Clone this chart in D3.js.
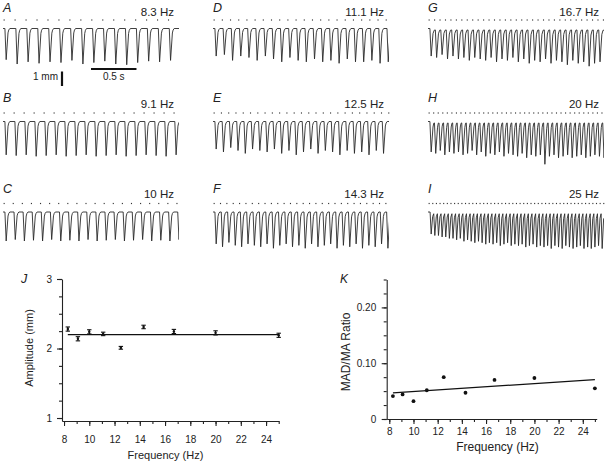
<!DOCTYPE html>
<html><head><meta charset="utf-8">
<script src="https://cdn.jsdelivr.net/npm/d3@7"></script>
<style>
body{margin:0;background:#fff}
svg{display:block;font-family:"Liberation Sans",Arial,Helvetica,sans-serif}
</style>
</head><body>
<svg id="c" width="605" height="463"></svg>
<script>
// ---------- data ----------
const panelLabels = ["A","B","C","D","E","F","G","H","I"];
const panelFreqs  = [8.3, 9.1, 10, 11.1, 12.5, 14.3, 16.7, 20, 25];
const panelFreqText = ["8.3 Hz","9.1 Hz","10 Hz","11.1 Hz","12.5 Hz","14.3 Hz","16.7 Hz","20 Hz","25 Hz"];
// trough depth of each contraction (mm below relaxed level)
const depthsA = [2.15,2.45,2.3,2.4,2.3,2.35,2.2,2.45,2.35,2.25,2.45,2.5,2.35,2.25,2.3,2.2];
const depthsB = [2.3,2.35,2.3,2.4,2.35,2.3,2.4,2.35,2.3,2.4,2.35,2.3,2.4,2.35,2.3,2.35,2.4,2.3];
const depthsC = [2.0,1.9,2.0,1.95,2.0,1.9,2.0,1.95,2.0,1.9,2.0,1.95,1.9,2.0,1.95,1.9,2.0,1.95,2.0,1.9];
const depthsD = [1.9,1.8,2.2,1.9,2.0,2.2,1.9,2.1,2.3,2.0,2.2,2.3,2.1,2.3,2.2,2.4,2.1,2.3,2.3,2.2,2.4,2.3];
const depthsE = [1.9,2.1,1.8,2.0,2.2,1.9,2.0,2.1,1.9,2.2,2.0,2.3,2.1,1.9,2.2,2.0,2.1,2.3,2.0,2.2,2.1,2.3,2.0,2.2];
const depthsF = [2.2,2.4,2.1,2.3,2.4,2.2,2.3,2.4,2.2,2.5,2.3,2.2,2.4,2.3,2.5,2.2,2.4,2.3,2.2,2.5,2.3,2.4,2.2,2.5,2.3,2.4,2.2,2.5];
const depthsG = [1.8,1.9,1.7,2.0,1.8,2.0,1.9,2.1,1.9,2.0,2.1,1.9,2.2,2.0,2.1,1.9,2.2,2.0,2.3,2.1,2.2,2.0,2.3,2.1,2.2,2.4,2.1,2.3,2.2,2.5,2.3,2.2];
const depthsH = [2.0,2.1,1.9,2.2,2.0,2.1,2.0,2.2,2.1,1.9,2.2,2.0,2.3,2.1,2.2,2.0,2.3,2.1,2.2,2.3,2.1,2.4,2.2,2.3,2.2,2.85,2.3,2.2,2.4,2.3,2.2,2.4,2.3,2.2,2.4,2.3,2.2,2.3,2.4];
const depthsI = [1.4,1.5,1.5,1.6,1.6,1.7,1.7,1.8,1.7,1.9,1.8,1.9,2.0,1.9,2.0,2.1,2.0,2.1,2.0,2.2,2.1,2.0,2.2,2.1,2.2,2.1,2.3,2.2,2.1,2.3,2.2,2.3,2.2,2.4,2.2,2.3,2.4,2.2,2.3,2.4,2.3,2.2,2.4,2.3,2.4,2.3,2.2,2.4];
// incomplete relaxation (mm) at high rates
const panelSag = [0, 0, 0, 0, 0, 0, 0.1, 0.1, 0.12];

const summaryFreq  = [8.3, 9.1, 10, 11.1, 12.5, 14.3, 16.7, 20, 25];
const amplitudeMM  = [2.28, 2.14, 2.24, 2.21, 2.01, 2.31, 2.245, 2.225, 2.19];
const amplitudeSEM = [0.03, 0.03, 0.03, 0.025, 0.02, 0.025, 0.03, 0.03, 0.03];
const amplitudeFit = [2.2, 2.2];
const madRatio     = [0.041, 0.044, 0.032, 0.0515, 0.075, 0.047, 0.070, 0.0735, 0.055];
const ratioFit     = [0.0467, 0.0707];
const fitFreqRange = [8.3, 25];
const freqTickValues = [8,10,12,14,16,18,20,22,24];
const ampTickValues = [1,2,3];
const ratioTickValues = [0, 0.10, 0.20];

// ---------- layout ----------
const svg = d3.select("#c");
const ink = "#222";
const colX = [3, 213, 428];
const dotsY = [20, 113, 203.5];
const letterY = [12, 102, 193];
const hzY = [15.5, 108, 197.5];
const traceW = 176, duration = 1.935, mmPx = 14.5;
const depthSets = [depthsA,depthsB,depthsC,depthsD,depthsE,depthsF,depthsG,depthsH,depthsI];

panelLabels.forEach((lab, k) => {
  const col = Math.floor(k / 3), row = k % 3;
  const x0 = colX[col], dy = dotsY[row];
  const f = panelFreqs[k], T = 1 / f, sag = panelSag[k], depths = depthSets[k];
  const x = d3.scaleLinear().domain([0, duration]).range([x0, x0 + traceW]);
  const y = d3.scaleLinear().domain([0, 1]).range([dy + 8.5, dy + 8.5 + mmPx]);
  const g = svg.append("g");
  g.append("text").attr("x", x0).attr("y", letterY[row]).attr("font-size", 12.5)
    .attr("font-style", "italic").attr("fill", ink).text(lab);
  g.append("text").attr("x", x0 + 171).attr("y", hzY[row]).attr("font-size", 11.5)
    .attr("text-anchor", "end").attr("fill", ink).text(panelFreqText[k]);
  // stimulus markers
  const stim = d3.range(0, Math.floor((duration - 0.012) * f) + 1).map(i => 0.012 + i * T);
  g.selectAll("rect.st").data(stim).join("rect").attr("class", "st")
    .attr("x", t => x(t) - 0.5).attr("y", dy - 0.6).attr("width", 1.1).attr("height", 1.2)
    .attr("fill", "#333");
  // trace
  const f1 = Math.min(0.014, 0.3 * T), r1 = Math.min(0.02, 0.4 * T);
  const pts = [[0, 0]];
  depths.forEach((d, i) => {
    const tc = 0.035 + i * T;
    const rest = T - f1 - r1;
    pts.push([tc - f1, i === 0 ? 0 : sag]);
    pts.push([tc, sag + d]);
    pts.push([tc + r1, sag + 0.14 * d]);
    if (rest > 0.03) {
      pts.push([tc + r1 + 0.008, sag + 0.05 * d]);
      pts.push([tc + r1 + 0.02, sag]);
    } else if (rest > 0.012) {
      pts.push([tc + r1 + 0.5 * rest, sag + 0.02]);
    }
  });
  pts.push([duration + 0.1, sag]);
  const clipId = "clip" + lab;
  svg.append("clipPath").attr("id", clipId).append("rect")
    .attr("x", x0 - 1).attr("y", dy).attr("width", traceW + 1).attr("height", 60);
  g.append("path").attr("clip-path", `url(#${clipId})`)
    .attr("d", d3.line().x(p => x(p[0])).y(p => y(p[1])).curve(d3.curveLinear)(pts))
    .attr("fill", "none").attr("stroke", "#2a2a2a").attr("stroke-width", 0.9)
    .attr("stroke-linejoin", "round");
});

// scale bars (use panel A scales)
{
  const xs = d3.scaleLinear().domain([0, duration]).range([colX[0], colX[0] + traceW]);
  const bx = 91;
  svg.append("line").attr("x1", bx).attr("x2", bx + (xs(0.5) - xs(0)))
    .attr("y1", 69).attr("y2", 69).attr("stroke", "#111").attr("stroke-width", 2);
  svg.append("text").attr("x", bx + (xs(0.5) - xs(0)) / 2).attr("y", 80).attr("font-size", 10)
    .attr("text-anchor", "middle").attr("fill", ink).text("0.5 s");
  svg.append("line").attr("x1", 62).attr("x2", 62).attr("y1", 71.5).attr("y2", 71.5 + mmPx)
    .attr("stroke", "#111").attr("stroke-width", 2.2);
  svg.append("text").attr("x", 58).attr("y", 80).attr("font-size", 10)
    .attr("text-anchor", "end").attr("fill", ink).text("1 mm");
}

// ---------- summary plots ----------
function styleAxis(sel) {
  sel.selectAll("path,line").attr("stroke", ink).attr("stroke-width", 1.1);
  sel.selectAll("text").attr("fill", ink).attr("font-size", 10)
    .attr("font-family", '"Liberation Sans",Arial,sans-serif');
}
function drawAxes(x, y, xAxisY, yAxisX, yMinor, yMajor, yFmt, xPad, yPad) {
  const xMinor = d3.range(8, 26, 1);
  const gx1 = svg.append("g").attr("transform", `translate(0,${xAxisY})`)
    .call(d3.axisBottom(x).tickValues(xMinor).tickSize(3).tickFormat(""));
  gx1.select(".domain").remove(); styleAxis(gx1);
  const gx = svg.append("g").attr("transform", `translate(0,${xAxisY})`)
    .call(d3.axisBottom(x).tickValues(freqTickValues).tickSize(5).tickSizeOuter(0).tickPadding(xPad).tickFormat(d3.format("d")));
  styleAxis(gx);
  const gy1 = svg.append("g").attr("transform", `translate(${yAxisX},0)`)
    .call(d3.axisLeft(y).tickValues(yMinor).tickSize(3).tickFormat(""));
  gy1.select(".domain").remove(); styleAxis(gy1);
  const gy = svg.append("g").attr("transform", `translate(${yAxisX},0)`)
    .call(d3.axisLeft(y).tickValues(yMajor).tickSize(5).tickSizeOuter(0).tickPadding(yPad).tickFormat(yFmt));
  styleAxis(gy);
}

// J
{
  const x = d3.scaleLinear().domain([7.84, 25]).range([62, 278.7]);
  const y = d3.scaleLinear().domain([0.957, 3]).range([421, 279]);
  drawAxes(x, y, 421, 62, d3.range(1, 3.01, 0.25), ampTickValues, d3.format("d"), 10, 5);
  svg.append("line").attr("x1", x(fitFreqRange[0])).attr("x2", x(fitFreqRange[1]))
    .attr("y1", y(amplitudeFit[0])).attr("y2", y(amplitudeFit[1]))
    .attr("stroke", "#111").attr("stroke-width", 1.2);
  const eb = svg.append("g").selectAll("g").data(summaryFreq).join("g");
  eb.append("line").attr("x1", (d) => x(d)).attr("x2", (d) => x(d))
    .attr("y1", (d, i) => y(amplitudeMM[i] - amplitudeSEM[i])).attr("y2", (d, i) => y(amplitudeMM[i] + amplitudeSEM[i]))
    .attr("stroke", "#111").attr("stroke-width", 1.3);
  [-1, 1].forEach(s => {
    eb.append("line").attr("x1", d => x(d) - 2.2).attr("x2", d => x(d) + 2.2)
      .attr("y1", (d, i) => y(amplitudeMM[i] + s * amplitudeSEM[i])).attr("y2", (d, i) => y(amplitudeMM[i] + s * amplitudeSEM[i]))
      .attr("stroke", "#111").attr("stroke-width", 1.1);
  });
  eb.append("circle").attr("cx", d => x(d)).attr("cy", (d, i) => y(amplitudeMM[i])).attr("r", 1.2).attr("fill", "#111");
  svg.append("text").attr("x", 165.5).attr("y", 459).attr("text-anchor", "middle")
    .attr("font-size", 11).attr("fill", ink).text("Frequency (Hz)");
  svg.append("text").attr("transform", "translate(33,348) rotate(-90)").attr("text-anchor", "middle")
    .attr("font-size", 11).attr("fill", ink).text("Amplitude (mm)");
  svg.append("text").attr("x", 21).attr("y", 283).attr("font-size", 12.5)
    .attr("font-style", "italic").attr("fill", ink).text("J");
}

// K
{
  const x = d3.scaleLinear().domain([7.785, 25.15]).range([386.7, 596.7]);
  const y = d3.scaleLinear().domain([0, 0.25]).range([419, 279.5]);
  drawAxes(x, y, 419, 386.7, d3.range(0, 0.2501, 0.025), ratioTickValues,
    d => d === 0 ? "0" : d3.format(".2f")(d), 4, 5.5);
  svg.append("line").attr("x1", x(fitFreqRange[0])).attr("x2", x(fitFreqRange[1]))
    .attr("y1", y(ratioFit[0])).attr("y2", y(ratioFit[1]))
    .attr("stroke", "#111").attr("stroke-width", 1.2);
  svg.append("g").selectAll("circle").data(summaryFreq).join("circle")
    .attr("cx", d => x(d)).attr("cy", (d, i) => y(madRatio[i])).attr("r", 1.9).attr("fill", "#111");
  svg.append("text").attr("x", 497.5).attr("y", 451).attr("text-anchor", "middle")
    .attr("font-size", 12).attr("fill", ink).text("Frequency (Hz)");
  svg.append("text").attr("transform", "translate(350,352) rotate(-90)").attr("text-anchor", "middle")
    .attr("font-size", 12).attr("fill", ink).text("MAD/MA Ratio");
  svg.append("text").attr("x", 340).attr("y", 283).attr("font-size", 12)
    .attr("font-style", "italic").attr("fill", ink).text("K");
}
</script>
</body></html>
